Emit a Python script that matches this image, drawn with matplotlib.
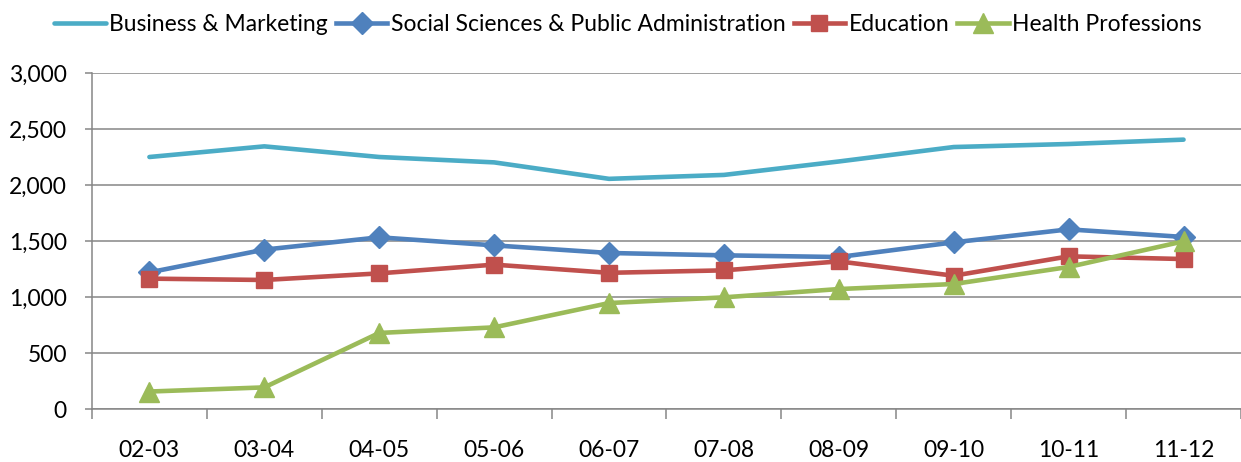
import numpy as np
import matplotlib
matplotlib.use("Agg")
import matplotlib.pyplot as plt
from matplotlib.ticker import FuncFormatter, FixedLocator

years = ['02-03', '03-04', '04-05', '05-06', '06-07',
         '07-08', '08-09', '09-10', '10-11', '11-12']

business = [2250, 2345, 2250, 2202, 2055, 2090, 2210, 2339, 2366, 2405]
social = [1220, 1423, 1533, 1461, 1393, 1372, 1357, 1488, 1604, 1536]
education = [1164, 1152, 1211, 1289, 1216, 1238, 1318, 1190, 1363, 1339]
health = [156, 193, 679, 729, 946, 997, 1071, 1116, 1268, 1497]

plt.rcParams['font.family'] = ['Lato', 'DejaVu Sans']

fig = plt.figure(figsize=(12.41, 4.62), dpi=100)
ax = fig.add_axes([0.0741, 0.1147, 0.9259, 0.7273])

x = np.arange(len(years))
ax.plot(x, business, color='#4BACC6', lw=3.3, solid_capstyle='round',
        label='Business & Marketing')
ax.plot(x, social, color='#4F81BD', lw=3.3, marker='D', ms=11,
        label='Social Sciences & Public Administration')
ax.plot(x, education, color='#C0504D', lw=3.3, marker='s', ms=11.5,
        label='Education')
ax.plot(x, health, color='#9BBB59', lw=3.3, marker='^', ms=14,
        label='Health Professions')

gray = '#868686'
ax.set_xlim(-0.5, len(years) - 0.5)
ax.set_ylim(0, 3000)
ax.set_yticks(np.arange(0, 3001, 500))
ax.yaxis.set_major_formatter(FuncFormatter(lambda v, p: f'{int(v):,}'))
ax.grid(axis='y', color=gray, lw=1.1)
ax.set_axisbelow(True)

# category labels centred, tick marks on the boundaries
ax.set_xticks(x)
ax.set_xticklabels(years)
ax.tick_params(axis='x', length=0, pad=22, labelsize=16.5)
ax.xaxis.set_minor_locator(FixedLocator(np.arange(-0.5, len(years), 1.0)))
ax.tick_params(axis='x', which='minor', length=7, color=gray, width=1.1)
ax.tick_params(axis='y', length=5, color=gray, width=1.1, labelsize=16.5, pad=13)

for s in ['top', 'right']:
    ax.spines[s].set_visible(False)
for s in ['left', 'bottom']:
    ax.spines[s].set_color(gray)
    ax.spines[s].set_linewidth(1.1)

fig.legend(loc='center', bbox_to_anchor=(0.506, 0.946), ncol=4, frameon=False,
           fontsize=16.5, handlelength=2.25, handletextpad=0.15, columnspacing=0.35)

fig.savefig('out.png', dpi=100)
